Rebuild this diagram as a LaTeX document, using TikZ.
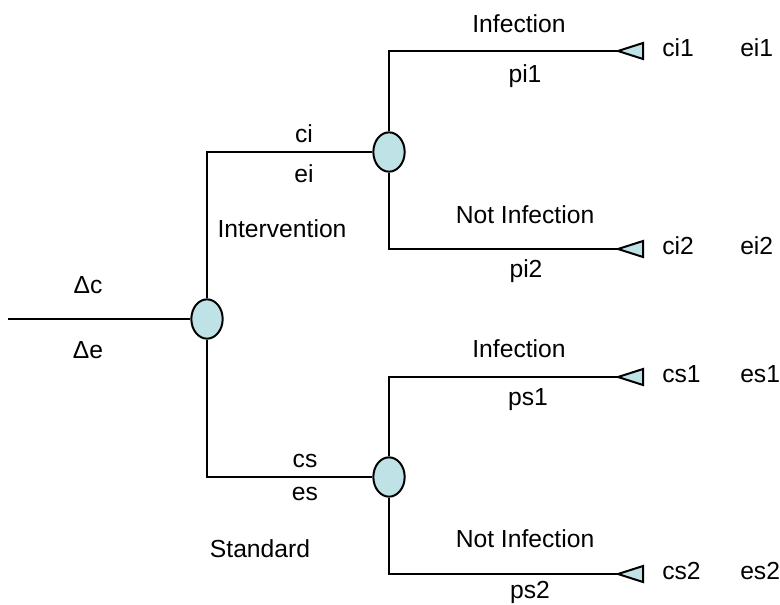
\documentclass[tikz,border=0pt]{standalone}
\usepackage{fontspec}
\setmainfont{Liberation Sans}
\usetikzlibrary{shapes.geometric}
\definecolor{chancefill}{RGB}{191,226,230}
\tikzset{
  chance/.style={ellipse, draw, fill=chancefill, minimum width=23.5pt, minimum height=29.5pt, inner sep=0pt, line width=1.5pt},
  lbl/.style={anchor=base, inner sep=0pt, font=\fontsize{18.5}{22}\selectfont},
  outlbl/.style={anchor=base west, inner sep=0pt, font=\fontsize{18.5}{22}\selectfont},
  leaf/.style={draw, fill=chancefill, line width=1.5pt, line join=miter},
  branch/.style={draw, line width=1.2pt}
}
\begin{document}
\begin{tikzpicture}[x=0.75pt,y=-0.75pt]
\useasboundingbox (0,0) rectangle (780,604);
% nodes
\coordinate (start) at (8,319);
\node[chance] (root) at (207,319) {};
\node[chance] (up) at (389,152) {};
\node[chance] (down) at (389,477) {};
\coordinate (t1) at (618,51);
\coordinate (t2) at (618,249);
\coordinate (t3) at (618,377);
\coordinate (t4) at (618,574);
% connectors
\draw[branch] (start) -- (root);
\draw[branch] (root) |- (up);
\draw[branch] (root) |- (down);
\draw[branch] (up) |- (t1);
\draw[branch] (up) |- (t2);
\draw[branch] (down) |- (t3);
\draw[branch] (down) |- (t4);
% terminal triangles
\draw[leaf] (t1) -- ++(25,-8) -- ++(0,16) -- cycle;
\draw[leaf] (t2) -- ++(25,-8) -- ++(0,16) -- cycle;
\draw[leaf] (t3) -- ++(25,-8) -- ++(0,16) -- cycle;
\draw[leaf] (t4) -- ++(25,-8) -- ++(0,16) -- cycle;
% labels
\node[lbl] (dc) at (88,293) {Δc};
\node[lbl] (de) at (88,358) {Δe};
\node[lbl] (ci) at (304,142) {ci};
\node[lbl] (ei) at (304,182) {ei};
\node[lbl] (interv) at (282,237) {Intervention};
\node[lbl] (cs) at (305,467) {cs};
\node[lbl] (es) at (305,500) {es};
\node[lbl] (stand) at (260,557) {Standard};
\node[lbl] (inf1) at (519,32) {Infection};
\node[lbl] (pi1) at (525,82) {pi1};
\node[lbl] (ninf1) at (525,223) {Not Infection};
\node[lbl] (pi2) at (526,277) {pi2};
\node[lbl] (inf2) at (519,357) {Infection};
\node[lbl] (ps1) at (528,405) {ps1};
\node[lbl] (ninf2) at (525,547) {Not Infection};
\node[lbl] (ps2) at (530,598) {ps2};
\node[outlbl] (ci1) at (662,56) {ci1};
\node[outlbl] (ei1) at (740,56) {ei1};
\node[outlbl] (ci2) at (662,254) {ci2};
\node[outlbl] (ei2) at (740,254) {ei2};
\node[outlbl] (cs1) at (662,382) {cs1};
\node[outlbl] (es1) at (740,382) {es1};
\node[outlbl] (cs2) at (662,579) {cs2};
\node[outlbl] (es2) at (740,579) {es2};
\end{tikzpicture}
\end{document}
